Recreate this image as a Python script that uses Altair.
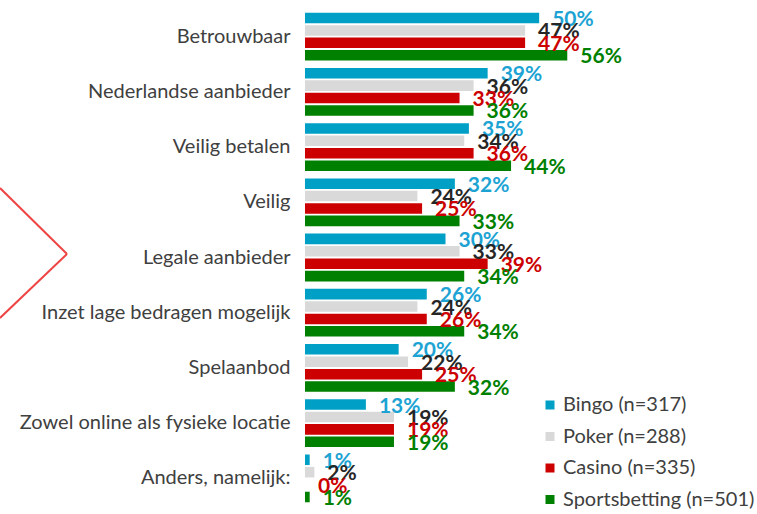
import altair as alt
import pandas as pd

categories = [
    "Betrouwbaar",
    "Nederlandse aanbieder",
    "Veilig betalen",
    "Veilig",
    "Legale aanbieder",
    "Inzet lage bedragen mogelijk",
    "Spelaanbod",
    "Zowel online als fysieke locatie",
    "Anders, namelijk:",
]
series = ["Bingo (n=317)", "Poker (n=288)", "Casino (n=335)", "Sportsbetting (n=501)"]
bingo = [50, 39, 35, 32, 30, 26, 20, 13, 1]
poker = [47, 36, 34, 24, 33, 24, 22, 19, 2]
casino = [47, 33, 36, 25, 39, 26, 25, 19, 0]
sports = [56, 36, 44, 33, 34, 34, 32, 19, 1]

bar_colors = ["#00A0C6", "#D9D9D9", "#CC0000", "#008000"]
label_colors = ["#1DA3D3", "#262626", "#CC0000", "#008000"]

rows = []
for s, vals in zip(series, [bingo, poker, casino, sports]):
    for c, v in zip(categories, vals):
        rows.append({"category": c, "series": s, "value": v, "label": f"{v}%"})
df = pd.DataFrame(rows)

y_enc = alt.Y("category:N", sort=categories,
              scale=alt.Scale(paddingInner=0, paddingOuter=0),
              axis=alt.Axis(title=None, ticks=False, domain=False, grid=False,
                            labelFont="Lato", labelFontSize=20, labelColor="#404040",
                            labelPadding=15, labelLimit=0))
yoff = alt.YOffset("series:N", sort=series,
                   scale=alt.Scale(paddingInner=0.15, paddingOuter=0.3))

base = alt.Chart(df)

bars = base.mark_bar().encode(
    x=alt.X("value:Q", scale=alt.Scale(domain=[0, 60], nice=False), axis=None),
    y=y_enc,
    yOffset=yoff,
    color=alt.Color("series:N", sort=series,
                    scale=alt.Scale(domain=series, range=bar_colors),
                    legend=alt.Legend(title=None, orient="none", legendX=235, legendY=386,
                                      symbolType="square", symbolSize=81, symbolStrokeWidth=0,
                                      labelFont="Lato", labelFontSize=20, labelColor="#404040",
                                      labelOffset=3, rowPadding=11.5, padding=0, labelLimit=0)),
)

labels = base.mark_text(align="left", baseline="middle", dx=13, dy=2,
                        font="Lato", fontSize=21, fontWeight="bold").encode(
    x=alt.X("value:Q"),
    y=alt.Y("category:N", sort=categories),
    yOffset=yoff,
    text="label:N",
    color=alt.Color("series:N", sort=series,
                    scale=alt.Scale(domain=series, range=label_colors), legend=None),
)

deco = alt.Chart(pd.DataFrame({"k": [0]}))
chev1 = deco.mark_rule(color="#EE4444", strokeWidth=2).encode(
    x=alt.value(-305), y=alt.value(179), x2=alt.value(-238), y2=alt.value(245))
chev2 = deco.mark_rule(color="#EE4444", strokeWidth=2).encode(
    x=alt.value(-238), y=alt.value(245), x2=alt.value(-305), y2=alt.value(309))

chart = alt.layer(bars, labels, chev1, chev2).resolve_scale(color="independent").properties(
    width=281, height=497,
    autosize=alt.AutoSizeParams(type="none"),
    padding={"left": 305, "top": 9, "right": 171, "bottom": 8},
).configure_view(stroke=None)

chart.save("out.html", embed_options={"renderer": "svg", "actions": False})
